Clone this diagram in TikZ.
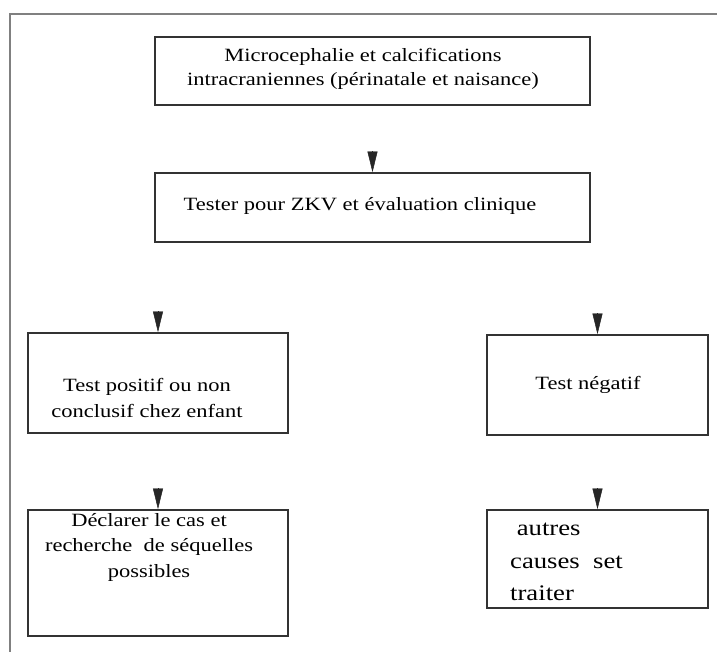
\documentclass[tikz,border=0pt]{standalone}
\usepackage{fontspec}
\setmainfont[FakeStretch=1.2]{Liberation Serif}
\usetikzlibrary{positioning}
\usetikzlibrary{arrows.meta}

\tikzset{
    box/.style={draw=black!80, line width=1.4pt, rectangle, inner sep=0pt},
    txt/.style={align=center, font=\fontsize{16}{22}\selectfont},
    tip/.style={-{Triangle[length=0.62cm, width=0.3cm]}, line width=0.4pt, draw=black!85, fill=black!85}
}

\begin{document}
\begin{tikzpicture}[x=0.03cm, y=-0.03cm]

    \useasboundingbox (0,0) rectangle (717,652);
    \draw[gray, line width=1.5pt] (717,14) -- (10,14) -- (10,652);

    \node[box, minimum width=13.05cm, minimum height=2.04cm] (micro) at (372.5,71) {};
    \node[txt, font=\fontsize{16}{21}\selectfont] (microtxt) at (363,69) {Microcephalie et calcifications\\intracraniennes (périnatale et naisance)};

    \node[box, minimum width=13.05cm, minimum height=2.07cm] (tester) at (372.5,207.5) {};
    \node[txt] (testertxt) at (360,206) {Tester pour ZKV et évaluation clinique};

    \node[box, minimum width=7.8cm, minimum height=3cm] (positif) at (158,383) {};
    \node[txt] (positiftxt) at (147,398) {Test positif ou non\\conclusif chez enfant};

    \node[box, minimum width=6.63cm, minimum height=3cm] (negatif) at (597.5,385) {};
    \node[txt] (negatiftxt) at (588,385) {Test négatif};

    \node[box, minimum width=7.8cm, minimum height=3.78cm] (declarer) at (158,573) {};
    \node[txt, anchor=north] (declarertxt) at (149,509) {Déclarer le cas et\\recherche\ \ de séquelles\\possibles};

    \node[box, minimum width=6.63cm, minimum height=2.94cm] (autres) at (597.5,559) {};
    \node[align=left, anchor=west, font=\fontsize{19}{28}\selectfont] (autrestxt) at (506,562) {\ autres\\causes\ \ set\\traiter};

    \coordinate[above=0.63cm of tester.north] (a1);
    \coordinate[above=0.63cm of positif.north] (a2);
    \coordinate[above=0.63cm of negatif.north] (a3);
    \coordinate[above=0.63cm of declarer.north] (a4);
    \coordinate[above=0.63cm of autres.north] (a5);

    \draw[tip] (a1) -- (tester.north);
    \draw[tip] (a2) -- (positif.north);
    \draw[tip] (a3) -- (negatif.north);
    \draw[tip] (a4) -- (declarer.north);
    \draw[tip] (a5) -- (autres.north);

\end{tikzpicture}
\end{document}
